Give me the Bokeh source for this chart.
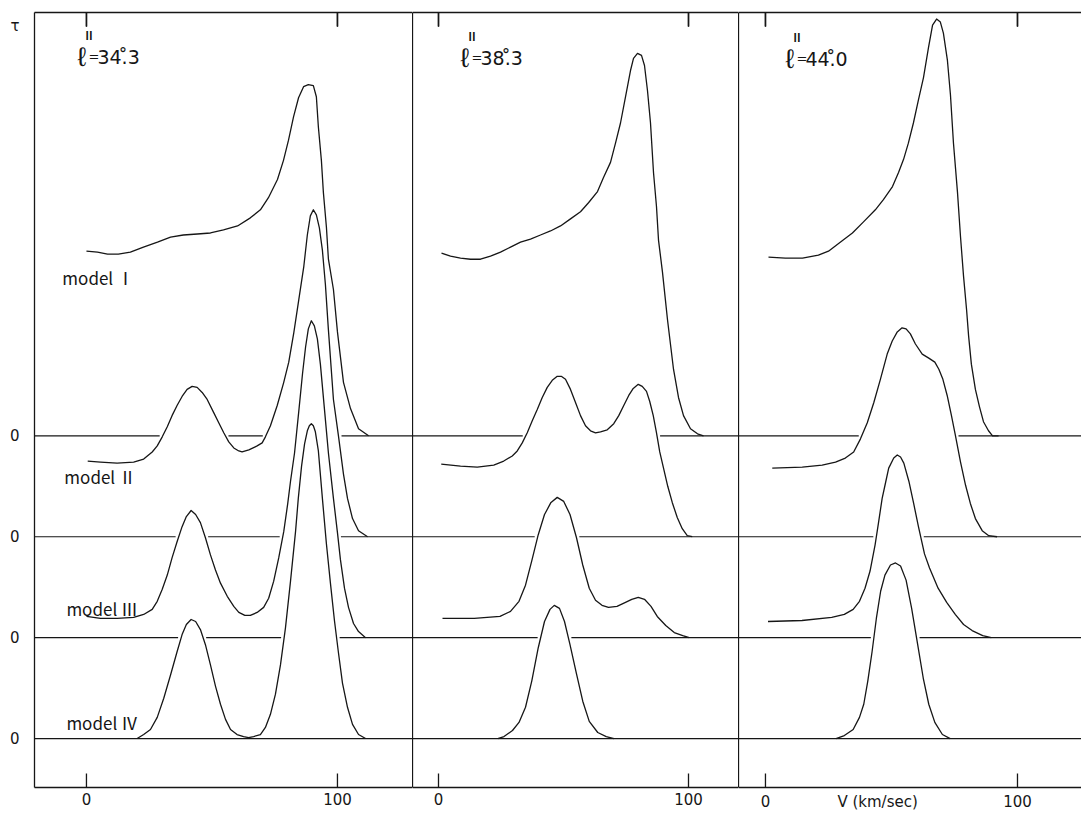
import numpy as np
from bokeh.plotting import figure
from bokeh.layouts import row
from bokeh.models import FixedTicker, Range1d, LinearAxis
from bokeh.core.properties import value
from bokeh.embed import file_html
from bokeh.resources import INLINE

# ---------------- data ----------------
MODEL_NAMES = ["model Ⅰ", "model Ⅱ", "model Ⅲ", "model Ⅳ"]
MODEL_ZERO = [0.0, -1.0, -2.0, -3.0]          # the four tau = 0 levels
LONGITUDES = ["34.\u030a3", "38.\u030a3", "44.\u030a0"]
V_TICKS = [0, 100]
AXIS_TITLE = "V (km/sec)"
AXIS_TITLE_V = 44.5

# l = 34.3
v34_1 = [0.0, 4.4, 8.4, 12.7, 17.5, 22.7, 28.3, 33.5, 38.6, 44.2, 49.4, 54.6, 60.2, 65.3, 69.3, 72.5, 76.1, 78.5, 80.5, 82.5, 84.5, 86.5, 88.4, 90.4, 91.6, 92.4, 93.6, 94.4, 95.6, 96.4, 98.4, 100.0, 102.4, 105.2, 108.4, 112.4]
t34_1 = [1.83, 1.82, 1.80, 1.80, 1.82, 1.87, 1.92, 1.97, 1.99, 2.00, 2.01, 2.04, 2.08, 2.16, 2.24, 2.36, 2.54, 2.73, 2.93, 3.16, 3.35, 3.46, 3.48, 3.47, 3.36, 3.06, 2.73, 2.41, 2.07, 1.75, 1.45, 1.03, 0.53, 0.27, 0.07, 0.00]
v34_2 = [0.5, 5.6, 12.2, 18.8, 22.8, 26.2, 28.2, 30.2, 32.2, 34.1, 36.1, 38.1, 40.1, 42.1, 44.1, 46.1, 48.1, 50.7, 52.7, 54.7, 56.7, 58.7, 60.7, 62.0, 64.7, 68.0, 70.0, 71.3, 73.3, 76.0, 78.6, 80.6, 82.6, 84.6, 86.6, 88.0, 89.2, 90.4, 91.6, 92.8, 94.0, 95.2, 96.4, 98.4, 100.4, 102.4, 104.0, 106.0, 108.4, 112.0]
t34_2 = [0.75, 0.74, 0.73, 0.74, 0.77, 0.84, 0.90, 0.99, 1.09, 1.20, 1.30, 1.39, 1.46, 1.49, 1.48, 1.43, 1.36, 1.23, 1.13, 1.03, 0.94, 0.88, 0.85, 0.84, 0.86, 0.90, 0.93, 0.99, 1.10, 1.30, 1.53, 1.73, 2.02, 2.35, 2.68, 2.99, 3.18, 3.24, 3.19, 3.06, 2.84, 2.50, 2.05, 1.36, 1.00, 0.62, 0.38, 0.18, 0.06, 0.00]
v34_3 = [0.0, 5.6, 12.2, 18.8, 22.8, 26.2, 28.2, 30.2, 32.2, 34.1, 36.1, 38.1, 39.8, 41.7, 43.5, 45.4, 47.4, 49.4, 51.4, 53.4, 56.1, 58.7, 60.7, 63.1, 65.3, 68.0, 70.6, 72.6, 74.6, 76.6, 78.6, 80.2, 81.3, 82.9, 84.5, 86.1, 87.3, 88.4, 89.6, 90.8, 92.0, 93.2, 94.8, 96.4, 98.4, 100.0, 101.2, 102.8, 104.4, 106.4, 108.4, 111.2]
t34_3 = [0.21, 0.19, 0.19, 0.20, 0.23, 0.28, 0.36, 0.48, 0.62, 0.79, 0.95, 1.10, 1.20, 1.26, 1.22, 1.14, 0.99, 0.82, 0.67, 0.54, 0.41, 0.31, 0.25, 0.22, 0.22, 0.25, 0.30, 0.39, 0.56, 0.79, 1.05, 1.33, 1.55, 1.83, 2.22, 2.62, 2.88, 3.06, 3.14, 3.09, 2.96, 2.71, 2.27, 1.83, 1.38, 1.04, 0.77, 0.49, 0.30, 0.14, 0.06, 0.00]
v34_4 = [20.2, 22.8, 25.5, 28.2, 30.8, 33.5, 36.1, 38.1, 39.8, 41.7, 43.5, 45.4, 47.4, 49.4, 51.4, 53.4, 55.4, 57.4, 60.0, 62.6, 64.6, 66.6, 69.3, 71.3, 73.3, 75.3, 77.3, 79.3, 81.3, 83.3, 84.4, 85.7, 86.9, 88.0, 88.8, 89.6, 90.4, 91.2, 92.4, 94.0, 95.6, 97.2, 98.8, 100.4, 102.0, 104.0, 106.0, 108.4, 111.2]
t34_4 = [0.00, 0.04, 0.09, 0.21, 0.40, 0.63, 0.86, 1.03, 1.13, 1.18, 1.16, 1.08, 0.93, 0.73, 0.52, 0.34, 0.19, 0.09, 0.04, 0.02, 0.01, 0.02, 0.04, 0.11, 0.24, 0.44, 0.73, 1.10, 1.56, 2.05, 2.38, 2.70, 2.92, 3.05, 3.10, 3.12, 3.10, 3.04, 2.85, 2.38, 1.93, 1.54, 1.17, 0.85, 0.55, 0.31, 0.14, 0.04, 0.00]

# l = 38.3
v38_1 = [1.2, 4.8, 8.8, 12.8, 16.8, 20.8, 24.8, 28.8, 32.8, 36.8, 40.8, 44.8, 48.8, 52.8, 56.8, 60.0, 63.6, 66.0, 68.8, 70.8, 72.8, 74.8, 76.8, 78.0, 79.6, 81.2, 82.4, 83.6, 84.8, 86.0, 87.2, 88.0, 89.6, 91.6, 94.0, 96.0, 98.0, 100.8, 103.6, 106.0]
t38_1 = [1.81, 1.78, 1.76, 1.75, 1.75, 1.78, 1.82, 1.87, 1.92, 1.95, 1.99, 2.03, 2.08, 2.15, 2.22, 2.31, 2.42, 2.56, 2.71, 2.90, 3.10, 3.36, 3.62, 3.74, 3.79, 3.77, 3.67, 3.42, 3.10, 2.61, 2.27, 1.94, 1.62, 1.15, 0.66, 0.38, 0.20, 0.07, 0.02, 0.00]
v38_2 = [1.1, 8.8, 15.5, 22.1, 26.1, 29.5, 31.5, 33.5, 35.5, 37.5, 39.5, 41.5, 43.5, 45.5, 47.5, 49.1, 50.8, 52.8, 54.8, 56.8, 58.8, 60.8, 62.8, 64.8, 67.5, 70.1, 72.1, 74.1, 76.1, 77.9, 79.9, 81.5, 83.2, 84.5, 85.9, 87.2, 88.5, 90.1, 91.7, 93.5, 95.5, 97.5, 99.5, 101.5]
t38_2 = [0.72, 0.70, 0.69, 0.71, 0.75, 0.80, 0.85, 0.93, 1.03, 1.15, 1.26, 1.38, 1.48, 1.55, 1.59, 1.59, 1.56, 1.46, 1.33, 1.20, 1.10, 1.05, 1.03, 1.04, 1.06, 1.12, 1.20, 1.30, 1.40, 1.47, 1.51, 1.49, 1.44, 1.34, 1.20, 1.03, 0.84, 0.67, 0.50, 0.34, 0.19, 0.08, 0.01, 0.00]
v38_3 = [1.6, 14.3, 24.6, 28.8, 32.2, 34.8, 37.3, 39.9, 42.4, 45.0, 47.5, 50.1, 52.6, 55.2, 57.7, 60.3, 62.8, 65.4, 68.0, 71.4, 74.8, 77.3, 79.9, 82.4, 85.0, 87.5, 90.9, 94.3, 97.7, 100.3]
t38_3 = [0.19, 0.19, 0.21, 0.26, 0.36, 0.52, 0.76, 1.02, 1.22, 1.34, 1.39, 1.35, 1.22, 0.99, 0.72, 0.49, 0.37, 0.32, 0.30, 0.31, 0.35, 0.38, 0.40, 0.38, 0.31, 0.21, 0.12, 0.05, 0.02, 0.00]
v38_4 = [23.7, 26.2, 29.6, 32.2, 34.8, 37.3, 39.9, 42.4, 44.6, 46.3, 48.4, 50.4, 52.6, 55.2, 57.7, 60.3, 63.7, 67.1, 70.2]
t38_4 = [0.00, 0.02, 0.08, 0.16, 0.31, 0.57, 0.90, 1.16, 1.28, 1.32, 1.29, 1.16, 0.93, 0.64, 0.37, 0.17, 0.06, 0.02, 0.00]

# l = 44.0
v44_1 = [1.2, 7.9, 14.7, 21.0, 25.0, 29.8, 34.5, 38.9, 43.6, 46.8, 50.4, 52.8, 54.8, 56.7, 58.7, 60.7, 62.7, 64.7, 66.3, 67.9, 69.4, 70.6, 72.2, 73.4, 74.6, 76.2, 77.4, 78.6, 79.8, 80.6, 81.7, 83.3, 84.9, 86.5, 88.5, 90.1, 92.5]
t44_1 = [1.77, 1.76, 1.76, 1.79, 1.83, 1.92, 2.01, 2.12, 2.24, 2.34, 2.47, 2.61, 2.74, 2.90, 3.10, 3.33, 3.55, 3.85, 4.07, 4.13, 4.10, 3.99, 3.72, 3.38, 2.90, 2.41, 1.97, 1.58, 1.25, 0.99, 0.71, 0.46, 0.29, 0.14, 0.05, 0.00, 0.00]
v44_2 = [2.7, 14.6, 22.5, 27.8, 31.7, 35.0, 37.7, 40.4, 43.0, 45.6, 48.3, 50.3, 52.3, 54.2, 55.8, 57.5, 59.5, 62.2, 64.8, 67.2, 68.8, 70.4, 72.1, 73.8, 75.4, 77.4, 79.4, 81.3, 83.3, 86.0, 88.6, 91.9]
t44_2 = [0.68, 0.69, 0.71, 0.74, 0.78, 0.84, 0.97, 1.13, 1.33, 1.56, 1.81, 1.94, 2.03, 2.07, 2.06, 2.01, 1.91, 1.81, 1.77, 1.73, 1.66, 1.56, 1.40, 1.20, 1.00, 0.74, 0.51, 0.33, 0.18, 0.06, 0.01, 0.00]
v44_3 = [1.0, 14.5, 26.3, 31.3, 34.8, 37.3, 39.5, 41.5, 43.5, 44.8, 46.3, 47.6, 48.9, 50.9, 52.3, 53.6, 54.9, 56.9, 58.8, 60.7, 63.1, 65.1, 68.5, 71.9, 75.3, 78.6, 82.0, 86.2, 89.6]
t44_3 = [0.16, 0.17, 0.20, 0.23, 0.28, 0.36, 0.49, 0.66, 0.92, 1.13, 1.38, 1.53, 1.68, 1.78, 1.81, 1.79, 1.73, 1.55, 1.33, 1.10, 0.83, 0.69, 0.49, 0.35, 0.23, 0.13, 0.07, 0.02, 0.00]
v44_4 = [28.0, 31.3, 34.8, 37.3, 39.0, 40.6, 42.3, 44.0, 45.7, 47.4, 49.6, 51.6, 53.6, 55.8, 58.0, 60.4, 62.6, 64.8, 67.2, 70.2, 73.3]
t44_4 = [0.00, 0.03, 0.09, 0.21, 0.34, 0.57, 0.86, 1.19, 1.46, 1.62, 1.72, 1.74, 1.71, 1.57, 1.29, 0.93, 0.60, 0.34, 0.16, 0.04, 0.00]

PANELS = [
    [(v34_1, t34_1), (v34_2, t34_2), (v34_3, t34_3), (v34_4, t34_4)],
    [(v38_1, t38_1), (v38_2, t38_2), (v38_3, t38_3), (v38_4, t38_4)],
    [(v44_1, t44_1), (v44_2, t44_2), (v44_3, t44_3), (v44_4, t44_4)],
]

# ---------------- layout ----------------
INK = "#161616"
Y_RANGE = (-3.485, 4.195)
X_RANGES = [(-20.7, 129.9), (-10.4, 120.0), (-10.7, 125.4)]
WIDTHS = [412, 326, 343]
LEFT_BORDER = [34, 0, 0]
TOP_BORDER = 12
BOTTOM_BORDER = 23
HEIGHT = 813
TICK_PX = 14
TITLE_POS = [(-3.6, 3.75), (8.8, 3.74), (7.9, 3.73)]
LABEL_FONT = "DejaVu Sans"
ELL_FONT = "Liberation Sans"
NUM_FONT = "Noto Sans CJK JP"

FRAME_H = HEIGHT - TOP_BORDER - BOTTOM_BORDER
TICK_DY = TICK_PX * (Y_RANGE[1] - Y_RANGE[0]) / FRAME_H
EDGE_EPS = 0.004


def baseline_segments(curves, xr, pad=1.2):
    grid = np.linspace(xr[0], xr[1], 4000)
    step = grid[1] - grid[0]
    n = int(round(pad / step))
    out = []
    for k in range(4):
        hidden = np.zeros(grid.size, dtype=bool)
        for j in range(k + 1, 4):
            v, t = curves[j]
            y = np.interp(grid, v, t, left=np.nan, right=np.nan) + MODEL_ZERO[j]
            hidden |= np.nan_to_num(y, nan=-99.0) > MODEL_ZERO[k]
        h = hidden.copy()
        for s in range(1, n + 1):
            h[:-s] |= hidden[s:]
            h[s:] |= hidden[:-s]
        vis = (~h).astype(int)
        edges = np.diff(np.concatenate([[0], vis, [0]]))
        starts = np.where(edges == 1)[0]
        ends = np.where(edges == -1)[0] - 1
        for s, e in zip(starts, ends):
            out.append((grid[s], grid[e], MODEL_ZERO[k]))
    return out


def plain_axis(ticks):
    ax = LinearAxis(ticker=FixedTicker(ticks=ticks))
    ax.axis_line_color = INK
    ax.axis_line_width = 1.3
    ax.major_tick_line_color = None
    ax.minor_tick_line_color = None
    ax.major_tick_in = 0
    ax.major_tick_out = 0
    return ax


figs = []
for i in range(3):
    xr = X_RANGES[i]
    p = figure(width=WIDTHS[i], height=HEIGHT,
               x_range=Range1d(*xr), y_range=Range1d(*Y_RANGE),
               output_backend="svg", toolbar_location=None,
               x_axis_location=None, y_axis_location=None,
               min_border_left=LEFT_BORDER[i], min_border_right=0,
               min_border_top=TOP_BORDER, min_border_bottom=BOTTOM_BORDER)
    p.outline_line_color = None
    p.xgrid.grid_line_color = None
    p.ygrid.grid_line_color = None
    p.background_fill_color = "white"
    p.border_fill_color = "white"

    # bottom axis (numbers; for the last panel also the axis title)
    bticks = list(V_TICKS) + ([AXIS_TITLE_V] if i == 2 else [])
    below = plain_axis(bticks)
    if i == 2:
        below.major_label_overrides = {AXIS_TITLE_V: AXIS_TITLE}
    below.major_label_standoff = 5
    below.major_label_text_font = LABEL_FONT
    below.major_label_text_font_size = "15px"
    below.major_label_text_color = INK
    p.add_layout(below, "below")

    # top frame line, with inward ticks at 0 and 100
    above = plain_axis(V_TICKS)
    above.major_tick_line_color = INK
    above.major_tick_line_width = 1.3
    above.major_tick_in = TICK_PX
    above.major_label_standoff = 0
    above.major_label_text_font_size = "1px"
    above.major_label_text_color = None
    p.add_layout(above, "above")

    if i == 0:
        yticks = [4.06] + MODEL_ZERO
        left = plain_axis(yticks)
        left.major_label_overrides = {4.06: "τ", 0.0: "0", -1.0: "0", -2.0: "0", -3.0: "0"}
        left.major_label_standoff = 15
        left.major_label_text_font = LABEL_FONT
        left.major_label_text_font_size = "15px"
        left.major_label_text_color = INK
        p.add_layout(left, "left")
    else:
        sep = plain_axis([0])
        sep.major_label_standoff = 0
        sep.major_label_text_font_size = "1px"
        sep.major_label_text_color = None
        p.add_layout(sep, "left")

    # inward ticks at 0 and 100 on the bottom frame line
    p.multi_line(xs=[[v, v] for v in V_TICKS],
                 ys=[[Y_RANGE[0] + EDGE_EPS, Y_RANGE[0] + TICK_DY] for _ in V_TICKS],
                 line_color=INK, line_width=1.3)
    # and on the top frame line
    for v in V_TICKS:
        p.line(x=[v, v], y=[Y_RANGE[1] - TICK_DY, Y_RANGE[1] - EDGE_EPS],
               line_color=INK, line_width=1.3)
    p.quad(left=[v - 0.25 for v in V_TICKS], right=[v + 0.25 for v in V_TICKS],
           bottom=[Y_RANGE[1] - TICK_DY] * len(V_TICKS),
           top=[Y_RANGE[1] - EDGE_EPS] * len(V_TICKS),
           fill_color=INK, line_color=None)

    curves = PANELS[i]
    segs = baseline_segments(curves, xr)
    p.segment(x0=[s[0] for s in segs], y0=[s[2] for s in segs],
              x1=[s[1] for s in segs], y1=[s[2] for s in segs],
              line_color=INK, line_width=1.2)

    for k, (v, t) in enumerate(curves):
        p.line(v, [tt + MODEL_ZERO[k] for tt in t], line_color=INK, line_width=1.3,
               line_join="round")

    # panel heading: l^II = longitude
    tx, ty = TITLE_POS[i]
    p.text(x=[tx], y=[ty], text=["ℓ"], text_font=value(ELL_FONT),
           text_font_size="27px", text_color=INK,
           text_align="left", text_baseline="alphabetic")
    p.text(x=[tx], y=[ty], text=["Ⅱ"], text_font=value(NUM_FONT),
           text_font_size="11px", text_font_style="bold", text_color=INK,
           text_align="left", text_baseline="alphabetic",
           x_offset=6, y_offset=-22)
    p.text(x=[tx], y=[ty], text=["="], text_font=value(LABEL_FONT),
           text_font_size="13px", text_color=INK,
           text_align="left", text_baseline="alphabetic",
           x_offset=11, y_offset=-1)
    p.text(x=[tx], y=[ty], text=[LONGITUDES[i]], text_font=value(LABEL_FONT),
           text_font_size="19px", text_color=INK,
           text_align="left", text_baseline="alphabetic",
           x_offset=20)

    if i == 0:
        p.text(x=[-9.6, -8.8, -8.0, -8.0], y=[1.57, -0.405, -1.71, -2.84],
               text=MODEL_NAMES, text_font=value(NUM_FONT),
               text_font_size="17px", text_color=INK,
               text_align="left", text_baseline="middle")
    figs.append(p)

layout = row(*figs)
open("out.html", "w").write(file_html(layout, INLINE))
